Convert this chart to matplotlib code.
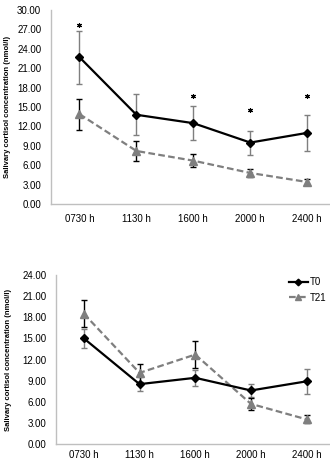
import matplotlib.pyplot as plt

times = ['0730 h', '1130 h', '1600 h', '2000 h', '2400 h']

# top panel
top_t0 = [22.7, 13.8, 12.5, 9.5, 11.0]
top_t0_err = [4.1, 3.2, 2.65, 1.85, 2.8]
top_t21 = [13.9, 8.2, 6.7, 4.8, 3.4]
top_t21_err = [2.4, 1.6, 1.0, 0.6, 0.5]
star_x = [0, 2, 3, 4]
star_y = [27.7, 16.7, 14.6, 16.7]

# bottom panel
bot_t0 = [15.0, 8.5, 9.4, 7.6, 8.9]
bot_t0_err = [1.4, 1.0, 1.1, 0.9, 1.8]
bot_t21 = [18.5, 10.1, 12.7, 5.7, 3.5]
bot_t21_err = [1.9, 1.3, 1.9, 0.85, 0.55]

ylabel = 'Salivary cortisol concentration (nmol/l)'
font = ['Liberation Sans', 'DejaVu Sans']
plt.rcParams['font.family'] = font

fig = plt.figure(figsize=(3.3, 4.62), dpi=100)
ax1 = fig.add_axes([51 / 330, 1 - 204 / 462, 1 - 51 / 330, 194 / 462])
ax2 = fig.add_axes([56 / 330, 1 - 444 / 462, 1 - 56 / 330, 169 / 462])


def draw(ax, t0, t0_err, t21, t21_err, ymax, right, xpad):
    x = list(range(len(times)))
    ax.errorbar(x, t0, yerr=t0_err, fmt='none', ecolor='#7f7f7f',
                elinewidth=1.0, capsize=2.5, capthick=1.0, zorder=2)
    ax.errorbar(x, t21, yerr=t21_err, fmt='none', ecolor='black',
                elinewidth=1.0, capsize=2.5, capthick=1.0, zorder=2)
    ax.plot(x, t0, color='black', lw=1.6, marker='D', ms=4.5,
            label='T0', zorder=4)
    ax.plot(x, t21, color='#7f7f7f', lw=1.6, ls=(0, (3, 1.5)), marker='^',
            ms=5.5, label='T21', zorder=3)
    ax.set_xlim(-0.5, right)
    ax.set_ylim(0, ymax)
    ax.set_yticks([i * 3 for i in range(int(ymax / 3) + 1)])
    ax.set_yticklabels(['%.2f' % (i * 3) for i in range(int(ymax / 3) + 1)])
    ax.set_xticks(x)
    ax.set_xticklabels(times)
    ax.tick_params(length=0, labelsize=7)
    ax.tick_params(axis='y', pad=7)
    ax.tick_params(axis='x', pad=xpad)
    for s in ['top', 'right']:
        ax.spines[s].set_visible(False)
    for s in ['left', 'bottom']:
        ax.spines[s].set_color('#bfbfbf')
        ax.spines[s].set_linewidth(1.0)
    ax.set_ylabel(ylabel, fontsize=5.5, fontweight='bold', labelpad=5)


draw(ax1, top_t0, top_t0_err, top_t21, top_t21_err, 30, 4.4, 7)
ax1.plot(star_x, star_y, ls='none', marker=(6, 2, 0), ms=3.5, mew=0.8, color='black')

draw(ax2, bot_t0, bot_t0_err, bot_t21, bot_t21_err, 24, 4.42, 4)
ax2.legend(loc='upper right', bbox_to_anchor=(1.02, 1.04), frameon=False,
           fontsize=7, handlelength=2.0, handletextpad=0.2, labelspacing=0.6,
           markerscale=0.75)

ax1.yaxis.set_label_coords(-0.145, 0.5)
ax2.yaxis.set_label_coords(-0.16, 0.5)

fig.savefig('out.png', dpi=100)
